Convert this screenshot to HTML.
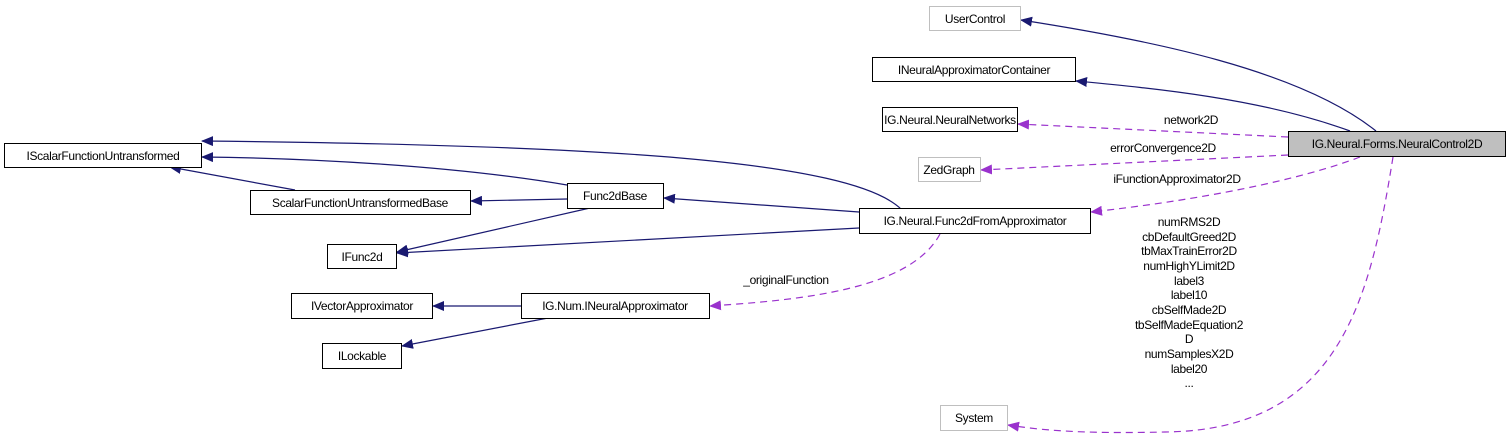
<!DOCTYPE html>
<html><head><meta charset="utf-8"><style>
html,body{margin:0;padding:0;background:#fff;}
svg{display:block;}
text{font-family:"Liberation Sans",Arial,sans-serif;font-size:12px;letter-spacing:-0.35px;fill:#000;}
</style></head><body>
<svg width="1509" height="439" viewBox="0 0 1509 439" xmlns="http://www.w3.org/2000/svg">
<defs>
<marker id="b" markerWidth="12" markerHeight="10" refX="11" refY="5" orient="auto" markerUnits="userSpaceOnUse"><path d="M0,0 L12,5 L0,10 z" fill="#191970"/></marker>
<marker id="p" markerWidth="12" markerHeight="10" refX="11" refY="5" orient="auto" markerUnits="userSpaceOnUse"><path d="M0,0 L12,5 L0,10 z" fill="#9a32cd"/></marker>
</defs>
<g fill="none" stroke="#191970" stroke-width="1.2" marker-end="url(#b)">
<path d="M1376,131 C1300,70 1150,40 1021,20"/>
<path d="M1350,131 C1260,98 1150,88 1076,81"/>
<path d="M901,209 C850,160 600,145 202,141"/>
<path d="M567,185 C450,165 300,158 202,157"/>
<path d="M295,190 L170,167"/>
<path d="M567,199 L471,201"/>
<path d="M859,212 L664,198"/>
<path d="M590,208 L397,252"/>
<path d="M859,228 L397,253"/>
<path d="M521,306 L433,306"/>
<path d="M548,318 L402,346"/>
</g>
<g fill="none" stroke="#9a32cd" stroke-width="1.2" stroke-dasharray="7,5" marker-end="url(#p)">
<path d="M1288,137 L1018,124"/>
<path d="M1288,155 L981,170"/>
<path d="M1360,157 C1300,180 1200,200 1091,212"/>
<path d="M940,234 C910,290 800,300 710,306"/>
<path d="M1393,157 C1370,300 1340,430 1165,432 C1080,434 1040,430 1008,425"/>
</g>
<g stroke-width="1">
<rect x="929.5" y="6.5" width="91" height="24" fill="#fff" stroke="#bfbfbf"/>
<rect x="872.5" y="57.5" width="203" height="24" fill="#fff" stroke="#000"/>
<rect x="882.5" y="107.5" width="135" height="24" fill="#fff" stroke="#000"/>
<rect x="1288.5" y="131.5" width="217" height="25" fill="#bfbfbf" stroke="#000"/>
<rect x="918.5" y="157.5" width="62" height="24" fill="#fff" stroke="#bfbfbf"/>
<rect x="4.5" y="143.5" width="197" height="24" fill="#fff" stroke="#000"/>
<rect x="250.5" y="190.5" width="220" height="24" fill="#fff" stroke="#000"/>
<rect x="567.5" y="183.5" width="96" height="25" fill="#fff" stroke="#000"/>
<rect x="327.5" y="244.5" width="69" height="24" fill="#fff" stroke="#000"/>
<rect x="859.5" y="208.5" width="231" height="25" fill="#fff" stroke="#000"/>
<rect x="291.5" y="293.5" width="141" height="25" fill="#fff" stroke="#000"/>
<rect x="521.5" y="293.5" width="188" height="25" fill="#fff" stroke="#000"/>
<rect x="322.5" y="343.5" width="79" height="25" fill="#fff" stroke="#000"/>
<rect x="940.5" y="405.5" width="67" height="25" fill="#fff" stroke="#bfbfbf"/>
</g>
<g text-anchor="middle">
<text x="975" y="23">UserControl</text>
<text x="974" y="74">INeuralApproximatorContainer</text>
<text x="950" y="124">IG.Neural.NeuralNetworks</text>
<text x="1397" y="148">IG.Neural.Forms.NeuralControl2D</text>
<text x="949" y="174">ZedGraph</text>
<text x="103" y="160">IScalarFunctionUntransformed</text>
<text x="360" y="207">ScalarFunctionUntransformedBase</text>
<text x="615" y="200">Func2dBase</text>
<text x="362" y="261">IFunc2d</text>
<text x="975" y="225">IG.Neural.Func2dFromApproximator</text>
<text x="362" y="310">IVectorApproximator</text>
<text x="615" y="310">IG.Num.INeuralApproximator</text>
<text x="362" y="360">ILockable</text>
<text x="974" y="422">System</text>
<text x="1191" y="124">network2D</text>
<text x="1163" y="152">errorConvergence2D</text>
<text x="1177" y="183">iFunctionApproximator2D</text>
<text x="786" y="284">_originalFunction</text>
<text x="1189" y="226">numRMS2D</text>
<text x="1189" y="241">cbDefaultGreed2D</text>
<text x="1189" y="255">tbMaxTrainError2D</text>
<text x="1189" y="270">numHighYLimit2D</text>
<text x="1189" y="285">label3</text>
<text x="1189" y="299">label10</text>
<text x="1189" y="314">cbSelfMade2D</text>
<text x="1189" y="329">tbSelfMadeEquation2</text>
<text x="1189" y="343">D</text>
<text x="1189" y="358">numSamplesX2D</text>
<text x="1189" y="373">label20</text>
<text x="1189" y="387">...</text>
</g>
</svg>
</body></html>
